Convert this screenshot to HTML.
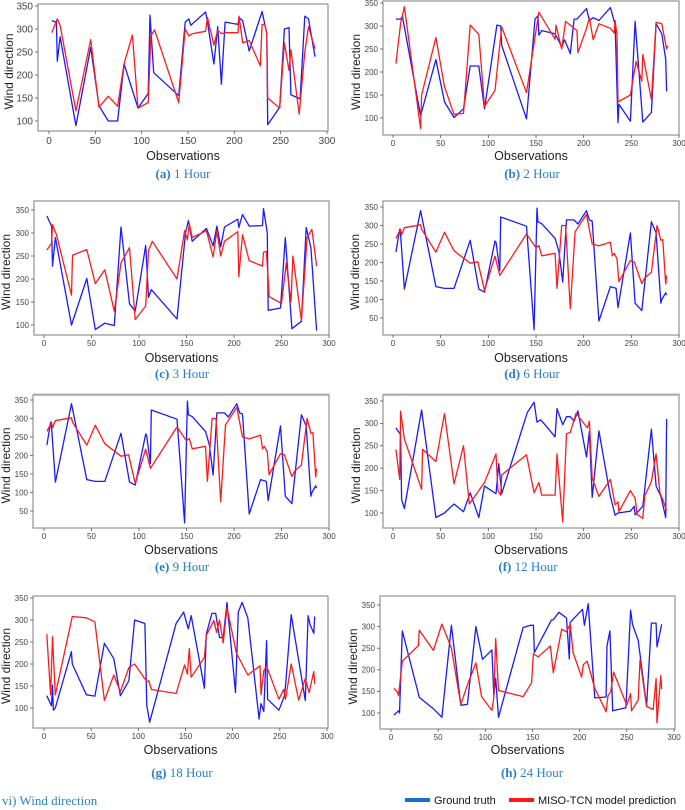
<!DOCTYPE html>
<html><head><meta charset="utf-8">
<style>
html,body{margin:0;padding:0;background:#fff;}
svg{display:block;font-family:"Liberation Sans","DejaVu Sans",sans-serif;}
</style></head>
<body>
<svg id="fig" width="685" height="810" viewBox="0 0 685 810"></svg>
<script>
// x-axis ticks / y-axis ticks
const xTicks = [0,50,100,150,200,250,300];
const yTicks100 = [100,150,200,250,300,350];
const yTicks50 = [50,100,150,200,250,300,350];

// (a) 1 Hour
const truthA = [[3,318],[8,315],[9,230],[12,283],[29,90],[45,260],[54,133],[64,100],[74,100],[81,224],[96,128],[107,160],[109,330],[113,205],[140,155],[147,315],[151,322],[153,308],[169,337],[171,315],[178,224],[182,305],[186,180],[190,315],[204,310],[205,325],[209,318],[216,252],[230,338],[235,290],[236,92],[249,130],[254,300],[259,303],[261,157],[271,148],[276,328],[280,322],[287,240]];
const predA = [[3,292],[9,322],[12,308],[29,122],[45,277],[54,130],[64,154],[74,132],[81,225],[90,287],[96,128],[107,140],[110,285],[114,298],[140,140],[147,300],[151,285],[155,290],[169,295],[171,325],[178,265],[182,297],[186,290],[190,292],[204,292],[205,328],[209,270],[216,275],[228,220],[230,310],[233,310],[235,290],[236,150],[249,128],[254,270],[259,210],[261,255],[270,115],[276,250],[280,305],[287,257]];
// (b) 2 Hour
const truthB = [[3,315],[8,315],[10,320],[29,105],[45,227],[54,135],[64,101],[74,120],[81,213],[90,213],[96,120],[109,302],[113,300],[114,258],[140,98],[149,315],[152,322],[153,280],[156,290],[170,283],[177,255],[180,270],[186,240],[190,315],[193,315],[203,338],[206,312],[210,318],[216,312],[228,340],[233,303],[236,90],[237,130],[249,93],[254,310],[262,91],[271,112],[276,305],[282,283],[286,228],[287,158]];
const predB = [[3,218],[8,305],[12,342],[29,77],[30,150],[45,275],[54,168],[64,108],[74,110],[81,302],[90,282],[96,125],[107,160],[114,298],[140,155],[150,290],[153,330],[170,271],[171,302],[177,250],[181,310],[193,290],[194,242],[203,295],[206,318],[210,270],[216,305],[228,295],[232,285],[233,312],[235,280],[236,135],[249,150],[255,223],[261,180],[262,238],[271,140],[276,308],[282,305],[287,250],[288,257]];
// (c) 3 Hour
const truthC = [[3,337],[8,315],[9,228],[12,290],[29,100],[45,201],[54,90],[64,104],[74,99],[81,313],[90,146],[96,130],[107,273],[110,160],[113,177],[140,113],[149,300],[152,327],[156,282],[171,310],[178,272],[182,315],[186,270],[190,313],[204,330],[205,312],[209,340],[216,315],[230,316],[231,353],[235,300],[236,132],[249,137],[254,290],[259,150],[261,92],[271,108],[276,312],[281,268],[287,88]];
const predC = [[3,263],[8,278],[9,318],[13,297],[29,165],[30,252],[45,264],[54,190],[64,220],[74,130],[81,235],[90,268],[96,112],[107,141],[110,262],[114,282],[140,200],[148,305],[151,285],[153,320],[156,290],[171,305],[178,248],[182,305],[186,250],[190,282],[204,303],[205,205],[209,296],[216,240],[230,228],[231,258],[234,260],[236,200],[237,162],[250,147],[255,235],[260,150],[262,250],[271,110],[277,290],[282,308],[287,228]];
// (d) 6 Hour
const truthD = [[3,228],[7,290],[8,275],[12,128],[29,340],[45,135],[54,130],[64,130],[81,260],[90,128],[96,120],[107,258],[108,255],[112,178],[113,323],[140,298],[148,18],[151,347],[152,310],[156,305],[170,265],[174,230],[178,147],[182,315],[190,315],[194,304],[203,340],[206,315],[209,312],[216,42],[228,135],[232,132],[234,130],[236,78],[249,280],[254,90],[261,70],[271,310],[276,280],[281,90],[282,100],[286,118],[287,112]];
const predD = [[3,265],[8,290],[9,275],[12,294],[29,302],[30,290],[45,228],[54,282],[64,232],[81,198],[89,202],[96,125],[107,217],[112,165],[140,277],[150,240],[153,246],[156,218],[170,225],[172,130],[177,300],[181,300],[186,75],[191,283],[203,330],[209,250],[216,245],[228,255],[230,218],[232,225],[235,210],[237,148],[249,205],[253,202],[261,143],[264,158],[271,174],[277,300],[281,260],[283,262],[286,142],[287,165]];
// (e) 9 Hour
const truthE = [[3,228],[7,290],[8,275],[12,128],[29,340],[45,135],[54,130],[64,130],[81,260],[90,128],[96,120],[107,258],[108,255],[112,178],[113,323],[140,298],[148,18],[151,347],[152,310],[156,305],[170,265],[174,230],[178,147],[182,315],[190,315],[194,304],[203,340],[206,315],[209,312],[216,42],[228,135],[232,132],[234,130],[236,78],[249,280],[254,90],[261,70],[271,310],[276,280],[281,90],[282,100],[286,118],[287,112]];
const predE = [[3,265],[8,290],[9,275],[12,294],[29,302],[30,290],[45,228],[54,282],[64,232],[81,198],[89,202],[96,125],[107,217],[112,165],[140,277],[150,240],[153,246],[156,218],[170,225],[172,130],[177,300],[181,300],[186,75],[191,283],[203,330],[209,250],[216,245],[228,255],[230,218],[232,225],[235,210],[237,148],[249,205],[253,202],[261,143],[264,158],[271,174],[277,300],[281,260],[283,262],[286,142],[287,165]];
// (f) 12 Hour
const truthF = [[3,290],[8,275],[9,130],[12,110],[30,330],[45,90],[54,100],[64,120],[74,103],[81,145],[90,90],[96,160],[108,143],[111,210],[114,143],[141,325],[148,347],[151,303],[155,308],[170,270],[172,333],[178,297],[182,315],[186,315],[190,305],[194,328],[203,225],[206,282],[209,135],[216,283],[228,137],[233,95],[236,100],[249,104],[253,115],[254,96],[262,115],[271,287],[276,160],[281,137],[286,90],[287,310]];
const predF = [[3,242],[7,175],[8,327],[12,265],[30,153],[31,242],[45,215],[54,322],[64,165],[74,250],[80,120],[96,168],[108,232],[110,150],[113,140],[114,185],[140,230],[148,145],[153,168],[156,140],[170,140],[172,232],[178,80],[182,277],[186,280],[192,322],[204,290],[206,305],[209,178],[216,137],[228,175],[233,118],[236,125],[237,103],[249,150],[254,133],[256,97],[262,88],[264,138],[271,170],[276,232],[280,145],[283,130],[287,105]];
// (g) 18 Hour
const truthG = [[3,128],[8,105],[9,152],[10,95],[12,100],[29,228],[30,200],[45,130],[54,127],[64,247],[74,212],[81,128],[90,162],[96,300],[107,292],[109,105],[112,68],[140,292],[148,318],[153,280],[156,310],[170,145],[172,268],[178,315],[182,315],[186,260],[190,260],[194,340],[203,135],[206,318],[210,340],[216,305],[228,75],[230,110],[233,92],[236,253],[237,120],[249,95],[255,128],[256,150],[262,312],[277,117],[280,310],[282,290],[286,270],[287,308]];
const predG = [[3,268],[7,130],[9,262],[12,130],[30,308],[45,305],[54,296],[64,117],[74,175],[81,137],[90,192],[96,200],[109,160],[111,162],[114,142],[140,133],[149,198],[152,177],[154,235],[156,170],[170,215],[172,265],[180,299],[183,272],[186,300],[190,248],[194,328],[204,225],[216,175],[229,196],[230,130],[233,185],[236,195],[249,120],[254,142],[256,120],[262,200],[270,118],[277,167],[281,135],[286,183],[287,155]];
// (h) 24 Hour
const truthH = [[3,95],[8,105],[9,100],[12,290],[30,136],[45,110],[54,90],[64,303],[74,118],[81,120],[90,300],[97,224],[107,246],[109,140],[111,180],[114,90],[140,298],[148,303],[151,303],[152,240],[170,315],[172,316],[178,333],[186,320],[189,225],[190,310],[203,340],[205,303],[209,353],[216,135],[228,137],[229,255],[232,290],[235,105],[249,112],[254,338],[256,305],[262,268],[271,117],[276,308],[281,308],[282,253],[287,305]];
const predH = [[3,157],[7,148],[8,140],[12,220],[29,256],[30,292],[45,245],[54,306],[64,250],[74,120],[81,165],[90,216],[96,138],[107,106],[109,135],[111,272],[114,152],[140,138],[149,170],[151,237],[156,230],[169,255],[172,193],[181,294],[186,288],[190,306],[193,240],[202,183],[204,212],[208,220],[216,157],[228,103],[230,140],[233,150],[236,195],[250,118],[254,145],[255,105],[262,130],[264,223],[271,115],[278,108],[281,180],[282,77],[286,187],[287,155]];

const svg = document.getElementById('fig');
const NS = 'http://www.w3.org/2000/svg';
function mk(tag, attrs, parent){
  const e = document.createElementNS(NS, tag);
  for (const k in attrs) e.setAttribute(k, attrs[k]);
  (parent||svg).appendChild(e);
  return e;
}

const panels = [
 {id:'a', cap:'1 Hour', truth:truthA, pred:predA, yt:yTicks100, box:[38,328,4,131], xm:[49,327], ym:[350,6,100,121], ytx:9, fs:10, obsY:160, capY:178, capX:183},
 {id:'b', cap:'2 Hour', truth:truthB, pred:predB, yt:yTicks100, box:[383,679,1,135], xm:[393,679], ym:[350,3,100,118], ytx:356, fs:8, obsY:160, capY:178, capX:532},
 {id:'c', cap:'3 Hour', truth:truthC, pred:predC, yt:yTicks100, box:[34,329,201,335], xm:[44,329], ym:[350,210,100,325], ytx:6, fs:8, obsY:362, capY:378, capX:182},
 {id:'d', cap:'6 Hour', truth:truthD, pred:predD, yt:yTicks50, box:[383,679,201,335], xm:[393,679], ym:[350,207,50,318], ytx:355, fs:8, obsY:362, capY:378, capX:532},
 {id:'e', cap:'9 Hour', truth:truthE, pred:predE, yt:yTicks50, box:[33,329,395,528], xm:[44,329], ym:[350,400,50,511], ytx:6, fs:8, obsY:554, capY:571, capX:182},
 {id:'f', cap:'12  Hour', truth:truthF, pred:predF, yt:yTicks100, box:[383,679,395,528], xm:[393,679], ym:[350,401,100,513], ytx:356, fs:8, obsY:554, capY:571, capX:528},
 {id:'g', cap:'18 Hour', truth:truthG, pred:predG, yt:yTicks100, box:[33,328,596,728], xm:[44,327], ym:[350,598,100,708], ytx:6, fs:8, obsY:754, capY:777, capX:182},
 {id:'h', cap:'24 Hour', truth:truthH, pred:predH, yt:yTicks100, box:[380,675,596,729], xm:[391,674], ym:[350,605,100,713], ytx:353, fs:8, obsY:754, capY:777, capX:532}
];

panels.forEach(p => {
  const g = mk('g', {});
  
  
  const [L,R,T,B] = p.box;
  const sx = v => p.xm[0] + (v/300)*(p.xm[1]-p.xm[0]);
  const sy = v => p.ym[1] + (p.ym[0]-v)*(p.ym[3]-p.ym[1])/(p.ym[0]-p.ym[2]);
  const frame = mk('rect', {x:L, y:T, width:R-L, height:B-T, fill:'#fff', stroke:'#9a9a9a', 'stroke-width':1.3}, g);
  
  
  xTicks.forEach(t => {
    const x = sx(t);
    mk('line', {x1:x, x2:x, y1:B, y2:B+3, stroke:'#555', 'stroke-width':0.8}, g);
    const tx = mk('text', {x:x, y:B+3+p.fs, 'font-size':p.fs, fill:'#444', 'text-anchor':'middle'}, g);
    tx.textContent = t;
    
    
  });
  p.yt.forEach(t => {
    const y = sy(t);
    mk('line', {x1:L-3, x2:L, y1:y, y2:y, stroke:'#555', 'stroke-width':0.8}, g);
    const tx = mk('text', {x:L-5, y:y+p.fs*0.35, 'font-size':p.fs, fill:'#444', 'text-anchor':'end'}, g);
    tx.textContent = t;
    
    
  });
  const pts = arr => arr.map(d => sx(d[0]).toFixed(1) + ',' + sy(d[1]).toFixed(1)).join(' ');
  const tl = mk('polyline', {points:pts(p.truth), fill:'none', stroke:'#1a1aff', 'stroke-width':1.3, 'stroke-linejoin':'round'}, g);
  
  
  const pl = mk('polyline', {points:pts(p.pred), fill:'none', stroke:'#ff1a1a', 'stroke-width':1.3, 'stroke-linejoin':'round'}, g);
  
  
  const cy = (T+B)/2;
  const yl = mk('text', {x:p.ytx, y:cy, 'font-size':12, fill:'#222', 'text-anchor':'middle', transform:'rotate(-90 '+(p.ytx+4)+' '+cy+')'}, g);
  yl.textContent = 'Wind direction';
  
  
  const xl = mk('text', {x:(L+R)/2, y:p.obsY, 'font-size':12.5, fill:'#222', 'text-anchor':'middle'}, g);
  xl.textContent = 'Observations';
  
  
  const cap = mk('text', {x:p.capX, y:p.capY, 'font-size':13, fill:'#2a80c4', 'text-anchor':'middle', 'font-family':'"Liberation Serif", serif'}, g);
  const b = mk('tspan', {'font-weight':'bold'}, cap);
  b.textContent = '(' + p.id + ') ';
  const r = mk('tspan', {}, cap);
  r.textContent = p.cap;
  
  
});

// separators
[[33,330],[383,680]].forEach(s => {
  const l = mk('line', {x1:s[0], x2:s[1], y1:394, y2:394, stroke:'#bbb', 'stroke-width':1});
  
  
});

const title = mk('text', {x:2, y:805, 'font-size':13, fill:'#2a80c4', 'font-family':'"Liberation Serif", serif'});
title.textContent = 'vi) Wind direction';



const lg = mk('g', {});


const s1 = mk('line', {x1:405, x2:430, y1:800, y2:800, stroke:'#1a6fd6', 'stroke-width':4}, lg);


const t1 = mk('text', {x:434, y:804, 'font-size':11, fill:'#111'}, lg);
t1.textContent = 'Ground truth';


const s2 = mk('line', {x1:509, x2:534, y1:800, y2:800, stroke:'#ff1a1a', 'stroke-width':4}, lg);


const t2 = mk('text', {x:538, y:804, 'font-size':11, fill:'#111'}, lg);
t2.textContent = 'MISO-TCN model prediction';


</script>
</body></html>
